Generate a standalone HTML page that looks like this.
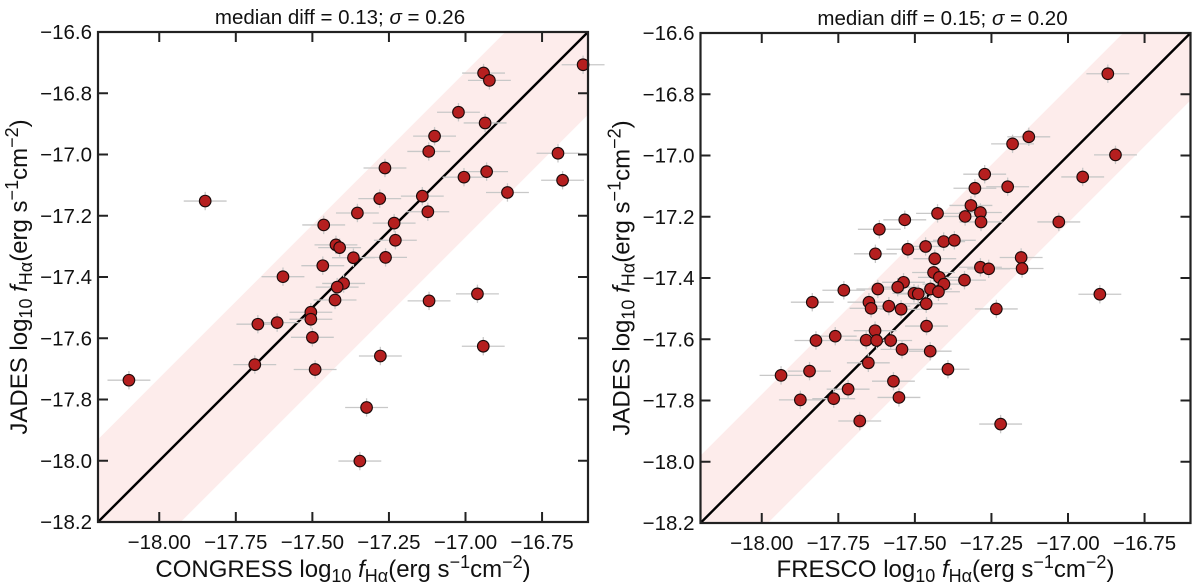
<!DOCTYPE html>
<html><head><meta charset="utf-8"><style>
html,body{margin:0;padding:0;background:#fff}
svg{display:block;font-family:"Liberation Sans",sans-serif}
</style></head><body>
<svg id="chart" width="1200" height="588" viewBox="0 0 1200 588"></svg>
<script>
const leftX=[-16.616,-16.941,-16.922,-17.023,-16.936,-17.101,-17.120,-16.698,-17.263,-17.005,-16.931,-16.683,-16.863,-17.850,-17.280,-17.141,-17.123,-17.353,-17.463,-17.233,-17.423,-17.411,-17.229,-17.366,-17.261,-17.466,-17.596,-17.398,-17.419,-17.426,-17.119,-16.961,-17.505,-17.505,-17.615,-17.678,-17.500,-16.942,-17.278,-17.688,-17.491,-18.099,-17.323,-17.345];
const leftY=[-16.707,-16.734,-16.758,-16.862,-16.897,-16.940,-16.990,-16.996,-17.044,-17.074,-17.056,-17.084,-17.124,-17.152,-17.144,-17.136,-17.187,-17.191,-17.230,-17.224,-17.295,-17.304,-17.280,-17.337,-17.336,-17.363,-17.399,-17.421,-17.433,-17.475,-17.478,-17.455,-17.515,-17.538,-17.549,-17.554,-17.597,-17.626,-17.658,-17.686,-17.702,-17.737,-17.826,-18.001];
const rightX=[-16.870,-17.128,-17.181,-16.845,-17.272,-16.952,-17.197,-17.304,-17.317,-17.336,-17.286,-17.426,-17.533,-17.284,-17.030,-17.616,-17.406,-17.371,-17.523,-17.465,-17.629,-17.435,-17.153,-17.150,-17.286,-17.259,-17.439,-17.420,-17.338,-17.405,-17.537,-17.556,-17.621,-17.449,-17.732,-17.503,-17.489,-17.423,-16.896,-17.835,-17.650,-17.463,-17.585,-17.643,-17.545,-17.234,-17.462,-17.630,-17.760,-17.823,-17.659,-17.625,-17.579,-17.542,-17.450,-17.652,-17.392,-17.937,-17.844,-17.718,-17.570,-17.874,-17.765,-17.552,-17.680,-17.220];
const rightY=[-16.733,-16.939,-16.962,-16.998,-17.061,-17.070,-17.102,-17.107,-17.163,-17.199,-17.186,-17.189,-17.210,-17.217,-17.217,-17.241,-17.281,-17.277,-17.306,-17.297,-17.321,-17.337,-17.333,-17.369,-17.365,-17.370,-17.382,-17.398,-17.407,-17.420,-17.414,-17.430,-17.436,-17.436,-17.440,-17.450,-17.452,-17.445,-17.453,-17.479,-17.479,-17.484,-17.492,-17.499,-17.502,-17.501,-17.557,-17.572,-17.590,-17.604,-17.603,-17.604,-17.604,-17.633,-17.639,-17.677,-17.698,-17.718,-17.704,-17.763,-17.737,-17.798,-17.794,-17.790,-17.867,-17.877];
const xTicks=[-18.00,-17.75,-17.50,-17.25,-17.00,-16.75];
const xTickLabels=["\u221218.00","\u221217.75","\u221217.50","\u221217.25","\u221217.00","\u221216.75"];
const yTicks=[-16.6,-16.8,-17.0,-17.2,-17.4,-17.6,-17.8,-18.0,-18.2];
const yTickLabels=["\u221216.6","\u221216.8","\u221217.0","\u221217.2","\u221217.4","\u221217.6","\u221217.8","\u221218.0","\u221218.2"];
const bandHalf=[0.27,0.22];
const titles=["median diff = 0.13; ","median diff = 0.15; "];
const sigmas=["0.26","0.20"];
const xNames=["CONGRESS","FRESCO"];

const NS="http://www.w3.org/2000/svg";
const svg=document.getElementById('chart');
function mk(tag,attrs,parent){const e=document.createElementNS(NS,tag);for(const k in attrs)e.setAttribute(k,attrs[k]);(parent||svg).appendChild(e);return e;}
const unitMarkup=' log<tspan font-size="18" dy="5">10</tspan><tspan dy="-5"> </tspan><tspan font-style="italic">f</tspan><tspan font-size="18" dy="5">Hα</tspan><tspan dy="-5">(erg s</tspan><tspan font-size="18" dy="-9">−1</tspan><tspan dy="9">cm</tspan><tspan font-size="18" dy="-9">−2</tspan><tspan dy="9">)</tspan>';

function panel(idx,L,T,W,H,xs,ys){
  const lo=-18.2,hi=-16.6;
  const sx=v=>L+(v-lo)/(hi-lo)*W;
  const sy=v=>T+H-(v-lo)/(hi-lo)*H;
  const g=mk('g',{});
  
  
  const cp=mk('clipPath',{id:'clip'+idx},g);
  mk('rect',{x:L,y:T,width:W,height:H},cp);
  const b=bandHalf[idx];
  const band=mk('polygon',{points:[[sx(lo),sy(lo+b)],[sx(hi-b),sy(hi)],[sx(hi),sy(hi)],[sx(hi),sy(hi-b)],[sx(lo+b),sy(lo)],[sx(lo),sy(lo)]].map(p=>p.join(',')).join(' '),fill:'#fdeceb','clip-path':'url(#clip'+idx+')'},g);
  
  
  const one=mk('line',{x1:sx(lo),y1:sy(lo),x2:sx(hi),y2:sy(hi),stroke:'#000','stroke-width':2.4},g);
  
  
  const eg=mk('g',{stroke:'#c8c8c8','stroke-width':1.3},g);
  for(let i=0;i<xs.length;i++){
    mk('line',{x1:sx(xs[i]-0.07),x2:sx(xs[i]+0.07),y1:sy(ys[i]),y2:sy(ys[i])},eg);
    mk('line',{x1:sx(xs[i]),x2:sx(xs[i]),y1:sy(ys[i]-0.03),y2:sy(ys[i]+0.03)},eg);
  }
  for(let i=0;i<xs.length;i++){
    const c=mk('circle',{cx:sx(xs[i]),cy:sy(ys[i]),r:5.8,fill:'#b51f1f',stroke:'#1a0a0a','stroke-width':1.1},g);
    
    
  }
  const fr=mk('rect',{x:L,y:T,width:W,height:H,fill:'none',stroke:'#222','stroke-width':2.2},g);
  
  
  xTicks.forEach((v,i)=>{
    const x=sx(v);
    mk('line',{x1:x,x2:x,y1:T+H,y2:T+H-10,stroke:'#222','stroke-width':2},g);
    mk('line',{x1:x,x2:x,y1:T,y2:T+10,stroke:'#222','stroke-width':2},g);
    const t=mk('text',{x:x,y:T+H+27,'font-size':20.5,'text-anchor':'middle',fill:'#111'},g);
    t.textContent=xTickLabels[i];
    
    
  });
  yTicks.forEach((v,i)=>{
    const y=sy(v);
    mk('line',{x1:L,x2:L+10,y1:y,y2:y,stroke:'#222','stroke-width':2},g);
    mk('line',{x1:L+W,x2:L+W-10,y1:y,y2:y,stroke:'#222','stroke-width':2},g);
    const t=mk('text',{x:L-6,y:y+7,'font-size':20.5,'text-anchor':'end',fill:'#111'},g);
    t.textContent=yTickLabels[i];
    
    
  });
  const tt=mk('text',{x:L+W/2-3,y:T-8,'font-size':20.5,'text-anchor':'middle',fill:'#111'},g);
  tt.innerHTML=titles[idx]+'<tspan font-style="italic">σ</tspan> = '+sigmas[idx];
  
  
  const xl=mk('text',{x:L+W/2,y:577,'font-size':24,'text-anchor':'middle',fill:'#111'},g);
  xl.innerHTML=xNames[idx]+unitMarkup;
  
  
  const cx=L-71, cy=T+H/2;
  const yl=mk('text',{x:cx,y:cy,'font-size':24,'text-anchor':'middle',fill:'#111',transform:'rotate(-90 '+cx+' '+cy+')'},g);
  yl.innerHTML='JADES'+unitMarkup;
  
  
}
panel(0,98,32,490,490,leftX,leftY);
panel(1,700.5,33,490,490,rightX,rightY);
</script>
</body></html>
